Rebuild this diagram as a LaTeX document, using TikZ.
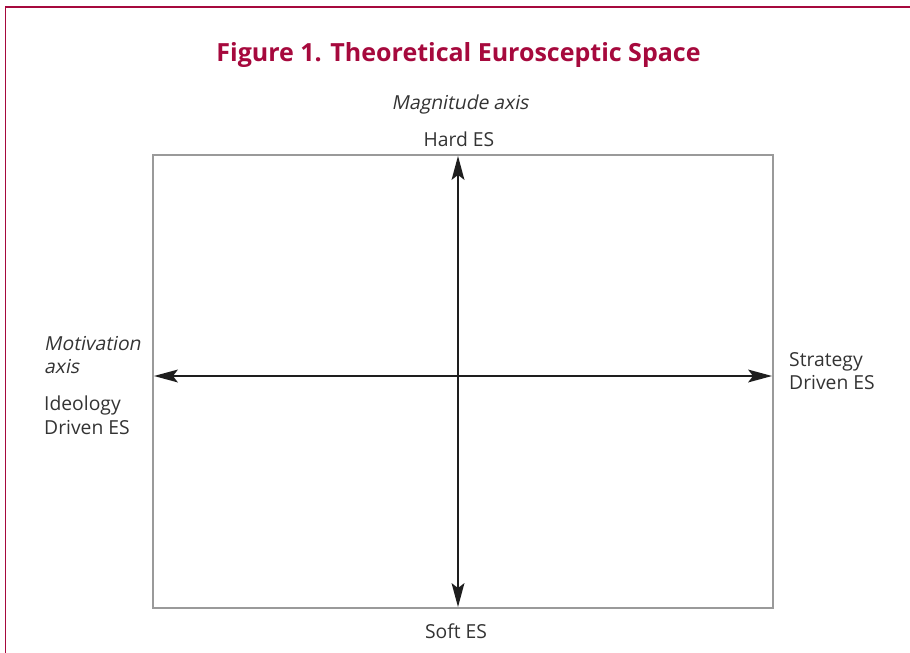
\documentclass[tikz,border=0pt]{standalone}
\usepackage{fontspec}
\setmainfont{Open Sans}
\newfontfamily\oblfont[FakeSlant=0.2]{Open Sans}
\definecolor{crimson}{HTML}{A6093D}
\definecolor{framegray}{HTML}{9A9A9A}
\definecolor{axisgray}{HTML}{1E1E1E}
\definecolor{txt}{HTML}{333333}
\tikzset{
  lbl/.style={inner sep=0pt, text=txt, font=\fontsize{19.3}{23.5}\selectfont},
  axislbl/.style={lbl, font=\fontsize{19.3}{23.5}\selectfont\oblfont},
  axisline/.style={draw=axisgray, line width=1.2pt},
  headfill/.style={fill=axisgray},
}
\begin{document}
\begin{tikzpicture}[x=1pt,y=1pt]
\useasboundingbox (0,0) rectangle (910,-653);
% outer border
\draw[crimson, line width=1.4pt] (5.5,-653) -- (5.5,-7) -- (910,-7);
% title
\node[inner sep=0pt, text=crimson, font=\fontsize{25}{30}\selectfont\bfseries] (title) at (458.5,-55) {Figure 1. Theoretical Eurosceptic Space};
% frame
\draw[framegray, line width=1.5pt] (153,-155) rectangle (773,-608);
\coordinate (top) at (458,-156);
\coordinate (bot) at (458,-607);
\coordinate (lft) at (154,-376);
\coordinate (rgt) at (772,-376);
\draw[axisline] ([yshift=-15]top) -- ([yshift=15]bot);
\draw[axisline] ([xshift=15]lft) -- ([xshift=-15]rgt);
% arrowheads
\fill[headfill] (top) -- ++(-6.5,-24) -- ++(6.5,5) -- ++(6.5,-5) -- cycle;
\fill[headfill] (bot) -- ++(-6.5,24) -- ++(6.5,-5) -- ++(6.5,5) -- cycle;
\fill[headfill] (lft) -- ++(24,6.5) -- ++(-5,-6.5) -- ++(5,-6.5) -- cycle;
\fill[headfill] (rgt) -- ++(-24,6.5) -- ++(5,-6.5) -- ++(-5,-6.5) -- cycle;
% labels
\node[axislbl] (mag) at (460,-104) {Magnitude axis};
\node[lbl] (hard) at (459,-139) {Hard ES};
\node[lbl] (soft) at (456,-631) {Soft ES};
\node[axislbl, anchor=north west, align=left] (mot) at (44,-336) {Motivation\\axis};
\node[lbl, anchor=north west, align=left] (ideo) at (44,-396) {Ideology\\Driven ES};
\node[lbl, anchor=north west, align=left] (strat) at (789,-352) {Strategy\\Driven ES};
\end{tikzpicture}
\end{document}
